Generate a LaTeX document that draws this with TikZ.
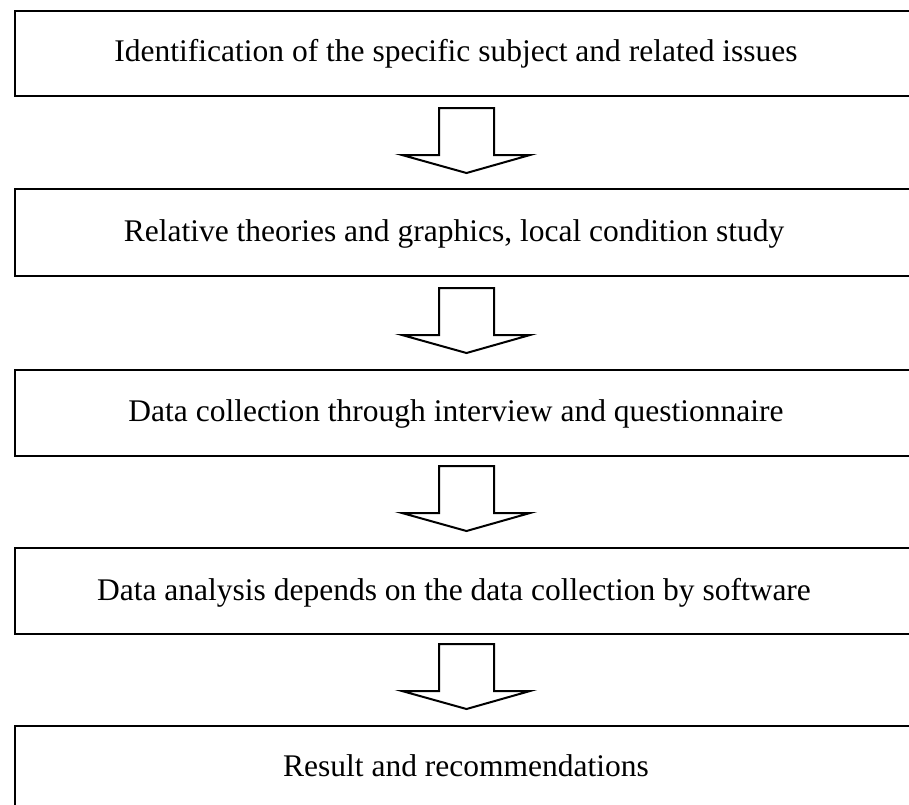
\documentclass[tikz,border=0pt]{standalone}
\usepackage{fontspec}
\setmainfont{Liberation Serif}
\begin{document}
\begin{tikzpicture}[x=1pt,y=-1pt,
  stagebox/.style={draw=black,line width=2.2pt,rectangle,inner sep=0pt,anchor=north west,minimum width=930pt},
  stagetext/.style={font=\fontsize{31.5}{38}\selectfont,inner sep=0pt,anchor=base},
  blockarrow/.style={draw=black,line width=2pt,fill=white,line join=miter}]
\clip (0,0) rectangle (909,804);
\fill[white] (0,0) rectangle (909,804);
% boxes
\node[stagebox,minimum height=85pt] (b1) at (13.5,9.5) {};
\node[stagebox,minimum height=87pt] (b2) at (13.5,188) {};
\node[stagebox,minimum height=86pt] (b3) at (13.5,369) {};
\node[stagebox,minimum height=86pt] (b4) at (13.5,547) {};
\node[stagebox,minimum height=120pt] (b5) at (13.5,725) {};
% texts
\node[stagetext] (t1) at (456,61) {Identification of the specific subject and related issues};
\node[stagetext] (t2) at (454,241) {Relative theories and graphics, local condition study};
\node[stagetext] (t3) at (456,421) {Data collection through interview and questionnaire};
\node[stagetext] (t4) at (454,600) {Data analysis depends on the data collection by software};
\node[stagetext] (t5) at (466,776) {Result and recommendations};
% block arrows (top-centre coordinates)
\coordinate (a1) at (466.5,108);
\coordinate (a2) at (466.5,288);
\coordinate (a3) at (466.5,466);
\coordinate (a4) at (466.5,644);
\foreach \a in {a1,a2,a3,a4}{
  \draw[blockarrow] (\a) ++(-27.5,0) -- ++(0,47) -- ++(-37,0) -- ++(64.5,18)
     -- ++(63.5,-18) -- ++(-36,0) -- ++(0,-47) -- cycle;
}
\end{tikzpicture}
\end{document}
